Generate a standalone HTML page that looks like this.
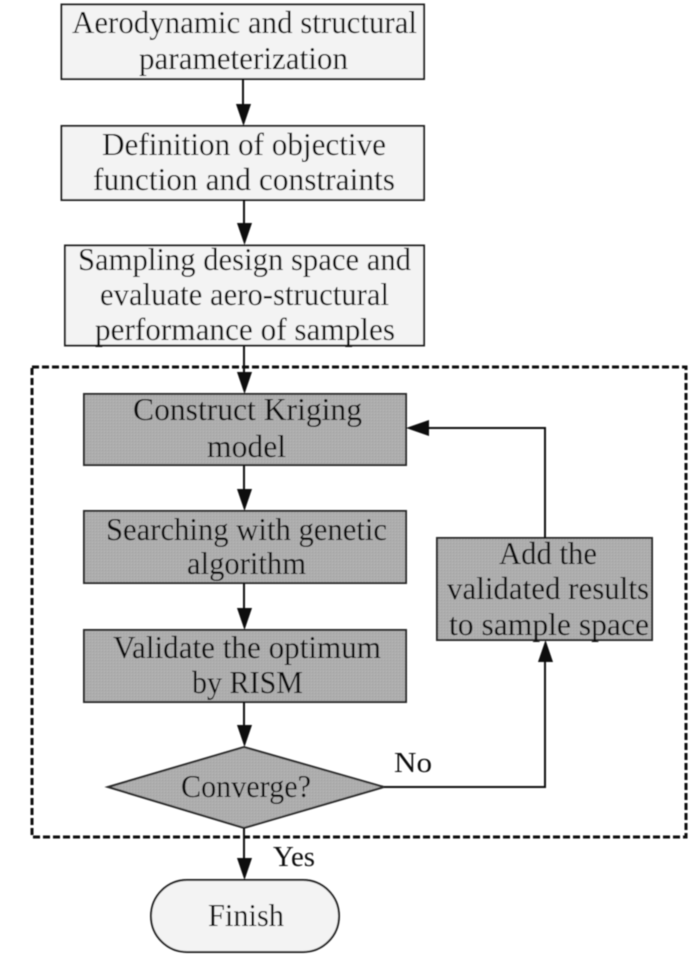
<!DOCTYPE html>
<html lang="en">
<head>
<meta charset="utf-8">
<title>Optimization flowchart</title>
<style>
html,body{margin:0;padding:0;background:#fff}
svg{display:block}
text{font-family:"Liberation Serif",serif;font-size:32px;fill:#101010;stroke:none}
</style>
</head>
<body>
<svg width="700" height="956" viewBox="0 0 700 956" xmlns="http://www.w3.org/2000/svg">
<defs>
<pattern id="g" width="3" height="3" patternUnits="userSpaceOnUse">
<rect width="3" height="3" fill="#adadad"/>
<rect x="0" y="0" width="1" height="1" fill="#9f9f9f"/>
<rect x="2" y="2" width="1" height="1" fill="#b9b9b9"/>
</pattern>
<filter id="soft" x="-5%" y="-5%" width="110%" height="110%"><feGaussianBlur stdDeviation="0.4"/></filter>
</defs>
<rect width="700" height="956" fill="#fff"/>
<g filter="url(#soft)">
<g fill="#f3f3f3" stroke="#222" stroke-width="2">
<rect x="61.500" y="4.500" width="362.500" height="74.500"/>
<rect x="61.500" y="126" width="362.500" height="74"/>
<rect x="65" y="245.500" width="359" height="100"/>
<rect x="151" y="880" width="188" height="72" rx="36" ry="36"/>
</g>
<g fill="url(#g)" stroke="#2c2c2c" stroke-width="2">
<rect x="84" y="394" width="322" height="71"/>
<rect x="84" y="511" width="322" height="72"/>
<rect x="84" y="630" width="322" height="72"/>
<rect x="437" y="538" width="215" height="102"/>
<polygon points="108,787 244,747 384,787 244,828"/>
</g>
<rect x="32" y="367" width="654" height="470" fill="none" stroke="#111" stroke-width="3" stroke-dasharray="7 3"/>
<g fill="none" stroke="#111" stroke-width="2">
<path d="M243 79V106"/>
<path d="M244 200V225"/>
<path d="M244 346V372"/>
<path d="M244 465V495"/>
<path d="M244 583V612"/>
<path d="M244 702V730"/>
<path d="M244 828V862"/>
<path d="M384 787H545V658"/>
<path d="M545 538V428H428"/>
</g>
<g fill="#0c0c0c">
<polygon points="236,104 251,104 243.500,126"/>
<polygon points="237,223 252,223 244.500,245"/>
<polygon points="237,372 252,372 244.500,394"/>
<polygon points="237,489 252,489 244.500,511"/>
<polygon points="237,608 252,608 244.500,630"/>
<polygon points="237,725 252,725 244.500,747"/>
<polygon points="237,858 252,858 244.500,880"/>
<polygon points="538,662 553,662 545.500,640"/>
<polygon points="429,420 429,436 406,428"/>
</g>
<g>
<text x="72" y="33" textLength="345" lengthAdjust="spacingAndGlyphs">Aerodynamic and structural</text>
<text x="139" y="69" textLength="209" lengthAdjust="spacingAndGlyphs">parameterization</text>
<text x="102" y="155" textLength="284" lengthAdjust="spacingAndGlyphs">Definition of objective</text>
<text x="93" y="190" textLength="302" lengthAdjust="spacingAndGlyphs">function and constraints</text>
<text x="78" y="270" textLength="333" lengthAdjust="spacingAndGlyphs">Sampling design space and</text>
<text x="100" y="305" textLength="289" lengthAdjust="spacingAndGlyphs">evaluate aero-structural</text>
<text x="95" y="340" textLength="300" lengthAdjust="spacingAndGlyphs">performance of samples</text>
<text x="133" y="420" textLength="229" lengthAdjust="spacingAndGlyphs">Construct Kriging</text>
<text x="207" y="457" textLength="79" lengthAdjust="spacingAndGlyphs">model</text>
<text x="106" y="540" textLength="281" lengthAdjust="spacingAndGlyphs">Searching with genetic</text>
<text x="187" y="574" textLength="119" lengthAdjust="spacingAndGlyphs">algorithm</text>
<text x="113" y="658" textLength="268" lengthAdjust="spacingAndGlyphs">Validate the optimum</text>
<text x="192" y="693" textLength="111" lengthAdjust="spacingAndGlyphs">by RISM</text>
<text x="181" y="797" textLength="130" lengthAdjust="spacingAndGlyphs">Converge?</text>
<text x="499" y="564" textLength="98" lengthAdjust="spacingAndGlyphs">Add the</text>
<text x="447" y="599" textLength="202" lengthAdjust="spacingAndGlyphs">validated results</text>
<text x="449" y="635" textLength="200" lengthAdjust="spacingAndGlyphs">to sample space</text>
<text x="394" y="772" textLength="38" lengthAdjust="spacingAndGlyphs" style="font-size:28px">No</text>
<text x="273" y="866" textLength="42" lengthAdjust="spacingAndGlyphs" style="font-size:28px">Yes</text>
<text x="208" y="926" textLength="76" lengthAdjust="spacingAndGlyphs">Finish</text>
</g>
</g>
</svg>
</body>
</html>
